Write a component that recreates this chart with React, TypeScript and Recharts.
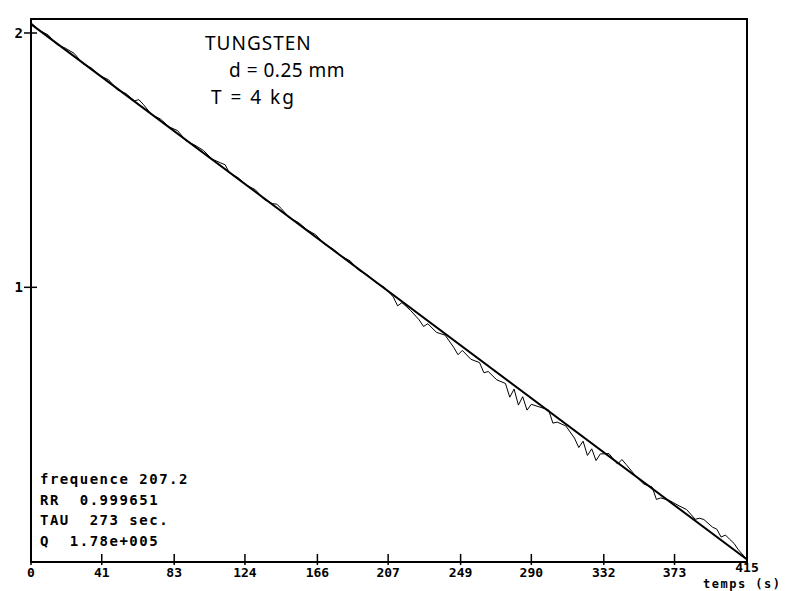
import React from 'react';
import { LineChart, Line, XAxis, YAxis, ReferenceArea } from 'recharts';

const timeS = [0,5,10,15,20,25,30,35,40,45,50,55,60,62.5,65,70,75,80,85,90,95,100,105,110,112.5,115,120,125,130,135,140,142.5,145,150,155,160,165,170,175,180,185,190,195,200,205,210,212.5,215,220,225,227.5,230,235,240,245,247.5,250,255,260,262.5,265,270,275,277.5,280,282.5,285,287.5,290,295,300,302.5,305,310,315,317.5,320,322.5,325,327.5,330,335,340,342.5,345,350,355,360,362.5,365,370,375,380,385,387.5,390,395,397.5,400,402.5,405,407.5,410,415];
const measured = [2.040,2.010,1.992,1.955,1.940,1.920,1.880,1.862,1.832,1.816,1.777,1.762,1.733,1.738,1.720,1.678,1.662,1.631,1.616,1.575,1.559,1.538,1.504,1.489,1.482,1.450,1.431,1.401,1.384,1.346,1.329,1.327,1.310,1.272,1.255,1.226,1.207,1.170,1.151,1.122,1.104,1.067,1.049,1.019,0.999,0.962,0.927,0.940,0.909,0.872,0.846,0.857,0.823,0.812,0.764,0.735,0.752,0.717,0.704,0.664,0.669,0.636,0.622,0.568,0.600,0.537,0.570,0.517,0.540,0.529,0.518,0.466,0.470,0.455,0.407,0.370,0.395,0.339,0.365,0.319,0.345,0.346,0.305,0.323,0.303,0.262,0.227,0.215,0.166,0.172,0.162,0.143,0.126,0.088,0.092,0.087,0.057,0.049,0.018,0.026,0.009,-0.007,-0.032,-0.070];
const fitTime = [0, 415];
const fitValues = [2.035, -0.07];
const xTicks = [0, 41, 83, 124, 166, 207, 249, 290, 332, 373, 415];
const yTicks = [1, 2];
const yDomain = [-0.08, 2.055];
const stats = ['frequence 207.2', 'RR  0.999651', 'TAU  273 sec.', 'Q  1.78e+005'];
const notes = ['TUNGSTEN', 'd = 0.25 mm', 'T = 4 kg'];

const data = timeS.map((t, i) => ({ t, v: measured[i] }));
const fitData = fitTime.map((t, i) => ({ t, fit: fitValues[i] }));

const mono = '"DejaVu Sans Mono", monospace';

const XTick = (props: any) => {
  const { x, y, payload, index } = props;
  const last = index === xTicks.length - 1;
  return (
    <g>
      <line x1={x} x2={x} y1={y - 8} y2={y + 3} stroke="#000" strokeWidth={1.5} />
      <text x={x} y={y + (last ? 10 : 15)} textAnchor="middle" fontFamily={mono} fontWeight="bold" fontSize={13} fill="#000">
        {payload.value}
      </text>
    </g>
  );
};

const YTick = (props: any) => {
  const { x, y, payload } = props;
  return (
    <g>
      <line x1={x - 7} x2={x + 6} y1={y} y2={y} stroke="#000" strokeWidth={1.5} />
      <text x={x - 8} y={y + 5} textAnchor="end" fontFamily={mono} fontWeight="bold" fontSize={14} fill="#000">
        {payload.value}
      </text>
    </g>
  );
};

export default function App() {
  return (
    <div style={{ position: 'relative', width: 781, height: 583, background: '#fff' }}>
      <LineChart width={781} height={583} data={data} margin={{ top: 11, right: 42, bottom: 0, left: 0 }}>
        <XAxis
          dataKey="t"
          type="number"
          domain={[0, 415]}
          ticks={xTicks}
          height={29}
          tickLine={false}
          axisLine={{ stroke: '#000', strokeWidth: 2 }}
          tickSize={0}
          tickMargin={0}
          tick={<XTick />}
          interval={0}
        />
        <YAxis
          type="number"
          domain={yDomain}
          ticks={yTicks}
          width={23}
          tickLine={false}
          axisLine={{ stroke: '#000', strokeWidth: 2 }}
          tickSize={0}
          tickMargin={0}
          tick={<YTick />}
          allowDataOverflow
        />
        <ReferenceArea x1={0} x2={415} y1={yDomain[0]} y2={yDomain[1]} stroke="#000" strokeWidth={2} fill="none" fillOpacity={0} />
        <Line dataKey="v" type="linear" stroke="#000" strokeWidth={1} dot={false} isAnimationActive={false} />
        <Line data={fitData} dataKey="fit" type="linear" stroke="#000" strokeWidth={2} dot={false} isAnimationActive={false} />
      </LineChart>
      <div style={{ position: 'absolute', left: 197, top: 22, fontFamily: '"Noto Sans", sans-serif', fontSize: 19, lineHeight: '27px', color: '#000' }}>
        <div style={{ letterSpacing: 1 }}>{notes[0]}</div>
        <div style={{ marginLeft: 24, letterSpacing: 0.5 }}>{notes[1]}</div>
        <div style={{ marginLeft: 6, letterSpacing: 2 }}>{notes[2]}</div>
      </div>
      <div style={{ position: 'absolute', left: 32, top: 461, fontFamily: mono, fontWeight: 'bold', fontSize: 14, lineHeight: '20.5px', letterSpacing: 1.5, color: '#000', whiteSpace: 'pre' }}>
        {stats.map((s) => (
          <div key={s}>{s}</div>
        ))}
      </div>
      <div style={{ position: 'absolute', left: 695, top: 570, fontFamily: mono, fontWeight: 'bold', fontSize: 12, lineHeight: '13px', letterSpacing: 1.5, color: '#000', whiteSpace: 'pre' }}>
        temps (s)
      </div>
    </div>
  );
}
